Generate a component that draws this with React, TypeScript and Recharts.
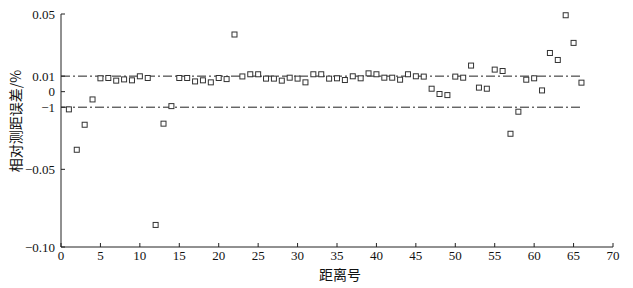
import React from "react";
import { ScatterChart, Scatter, XAxis, YAxis, ReferenceLine } from "recharts";

const distanceIds = [
  1, 2, 3, 4, 5, 6, 7, 8, 9, 10, 11, 12, 13, 14, 15, 16, 17, 18, 19, 20, 21, 22,
  23, 24, 25, 26, 27, 28, 29, 30, 31, 32, 33, 34, 35, 36, 37, 38, 39, 40, 41, 42,
  43, 44, 45, 46, 47, 48, 49, 50, 51, 52, 53, 54, 55, 56, 57, 58, 59, 60, 61, 62,
  63, 64, 65, 66,
];

const relErrors = [
  -0.0114, -0.0374, -0.0213, -0.005, 0.0086, 0.0088, 0.0071, 0.0079, 0.0073, 0.0099,
  0.0088, -0.0858, -0.0206, -0.0093, 0.0088, 0.0088, 0.0066, 0.0073, 0.006, 0.0088,
  0.0081, 0.0368, 0.0098, 0.0112, 0.0112, 0.0084, 0.0084, 0.0071, 0.009, 0.0084,
  0.006, 0.0112, 0.0112, 0.0084, 0.0086, 0.0075, 0.0099, 0.0086, 0.0118, 0.0112,
  0.009, 0.009, 0.0077, 0.0112, 0.0099, 0.0097, 0.0019, -0.0015, -0.0022, 0.0097,
  0.009, 0.0168, 0.0026, 0.0019, 0.0142, 0.0133, -0.0271, -0.0129, 0.0077, 0.0086,
  0.0008, 0.0249, 0.0204, 0.0492, 0.0314, 0.0058,
];

const xTicks = [0, 5, 10, 15, 20, 25, 30, 35, 40, 45, 50, 55, 60, 65, 70];
const yTicks = [0.05, 0.01, 0, -0.01, -0.05, -0.1];
const yTickLabels = ["0.05", "0.01", "0", "\u22121", "\u22120.05", "\u22120.10"];
const limitValues = [0.01, -0.01];
const limitRange = [0, 66];

const xTitle = "距离号";
const yTitle = "相对测距误差/%";

const data = distanceIds.map((id, i) => ({ x: id, y: relErrors[i] }));

const AXIS = "#222";
const FONT = "'Liberation Serif', 'Times New Roman', serif";
const CJK = "'Noto Sans CJK SC', sans-serif";

const YTick = (props: any) => {
  const { x, y, payload } = props;
  const idx = yTicks.indexOf(payload.value);
  const label = idx >= 0 ? yTickLabels[idx] : String(payload.value);
  return (
    <g>
      <line x1={x + 6} x2={x + 10} y1={y} y2={y} stroke={AXIS} strokeWidth={1} />
      <text
        x={x}
        y={y}
        textAnchor="end"
        dominantBaseline="central"
        style={{ fontFamily: FONT, fontSize: 13 }}
        fill="#111"
      >
        {label}
      </text>
    </g>
  );
};

const XTick = (props: any) => {
  const { x, y, payload } = props;
  return (
    <g>
      <line x1={x} x2={x} y1={y - 4} y2={y - 8} stroke={AXIS} strokeWidth={1} />
      <text
        x={x}
        y={y + 9}
        textAnchor="middle"
        style={{ fontFamily: FONT, fontSize: 13 }}
        fill="#111"
      >
        {payload.value}
      </text>
    </g>
  );
};

const Square = (props: any) => {
  const { cx, cy } = props;
  if (cx == null || cy == null) return null;
  return (
    <rect
      x={cx - 2.5}
      y={cy - 2.5}
      width={5}
      height={5}
      fill="#fff"
      stroke="#333"
      strokeWidth={1}
    />
  );
};

export default function App() {
  return (
    <div style={{ position: "absolute", left: 0, top: 0, width: 633, height: 288, background: "#fff" }}>
      <ScatterChart
        width={633}
        height={288}
        margin={{ top: 14, right: 20, bottom: 0, left: 0 }}
      >
        <XAxis
          type="number"
          dataKey="x"
          domain={[0, 70]}
          ticks={xTicks}
          interval={0}
          tickSize={0}
          tickMargin={4}
          tickLine={false}
          tick={<XTick />}
          axisLine={{ stroke: AXIS, strokeWidth: 1 }}
          height={41}
        />
        <YAxis
          type="number"
          dataKey="y"
          domain={[-0.1, 0.05]}
          ticks={yTicks}
          interval={0}
          tickSize={0}
          tickMargin={6}
          tickLine={false}
          tick={<YTick />}
          axisLine={{ stroke: AXIS, strokeWidth: 1 }}
          width={61}
        />
        {limitValues.map((v) => (
          <ReferenceLine
            key={v}
            segment={[
              { x: limitRange[0], y: v },
              { x: limitRange[1], y: v },
            ]}
            stroke={AXIS}
            strokeWidth={1}
            strokeDasharray="9 3 2 3"
          />
        ))}
        <Scatter data={data} shape={<Square />} isAnimationActive={false} />
        <text
          x={340}
          y={280}
          textAnchor="middle"
          style={{ fontFamily: CJK, fontSize: 14 }}
          fill="#111"
        >
          {xTitle}
        </text>
        <text
          x={21}
          y={121}
          textAnchor="middle"
          style={{ fontFamily: CJK, fontSize: 14 }}
          fill="#111"
          transform="rotate(-90 21 121)"
        >
          {yTitle}
        </text>
      </ScatterChart>
    </div>
  );
}
